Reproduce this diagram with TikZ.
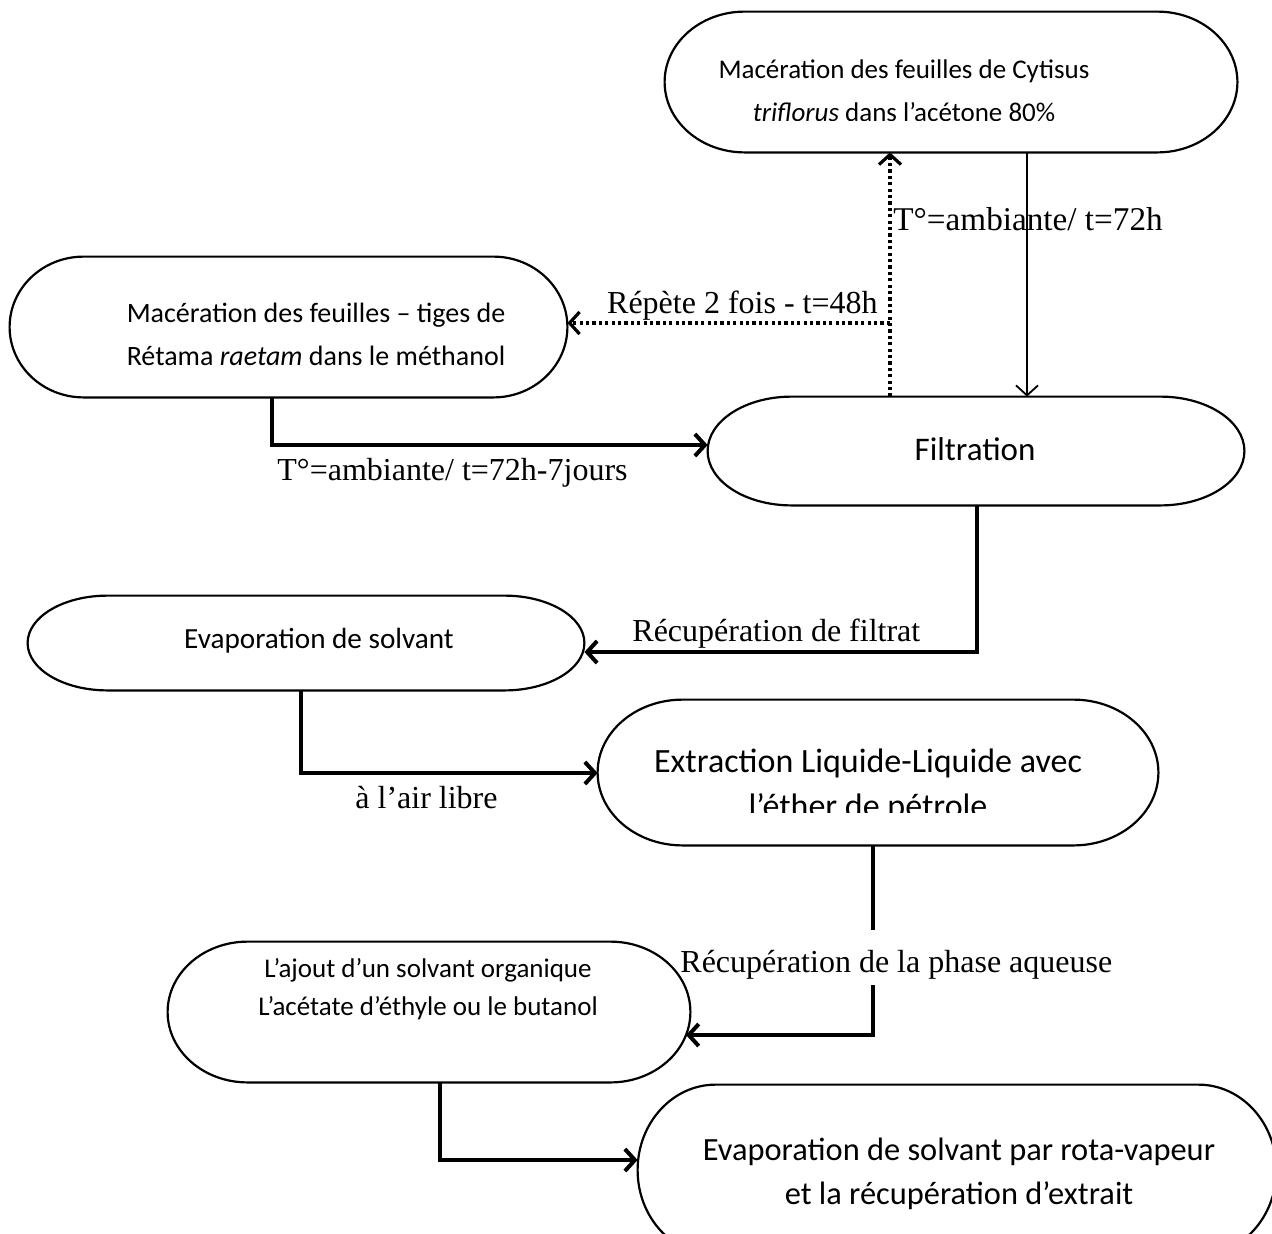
\documentclass[tikz,border=0pt]{standalone}
\usepackage{fontspec}
\setmainfont{Liberation Serif}
\newfontfamily\calfont{Carlito}
\usetikzlibrary{arrows.meta,calc}
\tikzset{
  stad/.style={draw=none, shape=rectangle, inner sep=0pt},
  boxline/.style={draw=black, line width=1.1pt},
  btxt/.style={font=\calfont\fontsize{13.5}{21.5}\selectfont, align=center, inner sep=0pt},
  ltxt/.style={font=\fontsize{16}{19}\selectfont, inner sep=0pt},
  tipthick/.style={-{Straight Barb[length=5pt,width=11pt,line width=2pt]}},
  tipthin/.style={-{Straight Barb[length=5pt,width=11pt,line width=0.9pt]}},
  thickconn/.style={line width=2.1pt, tipthick},
  thickline/.style={line width=2.1pt},
  thinconn/.style={line width=0.8pt, tipthin},
  dotline/.style={line width=1.6pt, dash pattern=on 1.6pt off 1.6pt},
  dotconn/.style={dotline, -{Straight Barb[length=5pt,width=11pt,line width=1.6pt]}},
}
\newcommand\mystad[2]{%
  \draw[boxline] let \p1=(#1.north west), \p2=(#1.south east), \n1={(\y1-\y2)/2} in
    (\x1+#2,\y1) -- (\x2-#2,\y1)
    arc[start angle=90,end angle=-90,x radius=#2,y radius=\n1]
    -- (\x1+#2,\y2)
    arc[start angle=270,end angle=90,x radius=#2,y radius=\n1] -- cycle;}
\begin{document}
\begin{tikzpicture}[x=0.5pt,y=-0.5pt]
\useasboundingbox (0,0) rectangle (1272,1233);
\clip (0,0) rectangle (1272,1233);
% columns and rows
\coordinate (c1) at (1027,0);
\coordinate (c2) at (890,0);
\coordinate (c3) at (272,0);
\coordinate (c4) at (977,0);
\coordinate (c5) at (301,0);
\coordinate (c6) at (873,0);
\coordinate (c7) at (440,0);
\coordinate (r1) at (0,323);
\coordinate (r2) at (0,445);
\coordinate (r3) at (0,652);
\coordinate (r4) at (0,773);
\coordinate (r5) at (0,1035);
\coordinate (r6) at (0,1160);
\coordinate (g1) at (0,930);
\coordinate (g2) at (0,985);
% box frames
\node[stad, minimum width=286pt, minimum height=70pt] (b1) at (951,82) {};
\node[stad, minimum width=278.5pt, minimum height=70pt] (b2) at (288.5,327) {};
\node[stad, minimum width=268pt, minimum height=54pt] (b3) at (976,451) {};
\node[stad, minimum width=278pt, minimum height=47pt] (b4) at (306,643) {};
\node[stad, minimum width=280pt, minimum height=72.5pt] (b5) at (878,772.5) {};
\node[stad, minimum width=261pt, minimum height=70pt] (b6) at (429,1012) {};
\node[stad, minimum width=319pt, minimum height=85pt] (b7) at (957,1170) {};
\coordinate (e6) at ([xshift=-2.2pt]b6.east);
% connectors
\draw[thinconn] (b1.south -| c1) -- (b3.north -| c1);
\draw[dotconn] (b3.north -| c2) -- (b1.south -| c2);
\draw[dotconn] (c2 |- r1) -- (b2.east |- r1);
\draw[thickconn] (b2.south -| c3) |- (b3.west |- r2);
\draw[thickconn] (b3.south -| c4) |- (b4.east |- r3);
\draw[thickconn] (b4.south -| c5) |- (b5.west |- r4);
\draw[thickline] (b5.south -| c6) -- (c6 |- g1);
\draw[thickconn] (c6 |- g2) |- (e6 |- r5);
\draw[thickconn] (b6.south -| c7) |- (b7.west |- r6);
% outlines
\mystad{b1}{40pt}
\mystad{b2}{37pt}
\mystad{b3}{42pt}
\mystad{b4}{40pt}
\mystad{b5}{42.5pt}
\mystad{b6}{40pt}
\mystad{b7}{39pt}
% box texts
\begin{scope}
\clip (665,12) rectangle (1240,120);
\node[btxt] (t1) at (904,92) {Macération des feuilles de Cytisus\\\textit{triflorus} dans l’acétone 80\%};
\end{scope}
\node[btxt, font=\calfont\fontsize{14}{21.5}\selectfont] (t2) at (316,334) {Macération des feuilles – tiges de\\Rétama \textit{raetam} dans le méthanol};
\node[btxt, font=\calfont\fontsize{16.5}{22}\selectfont] (t3) at (975,449) {Filtration};
\node[btxt, font=\calfont\fontsize{14.6}{21.5}\selectfont] (t4) at (319,641) {Evaporation de solvant};
\begin{scope}
\clip (598,700) rectangle (1158,812);
\node[btxt, font=\calfont\fontsize{17}{22.5}\selectfont] (t5) at (868,786) {Extraction Liquide-Liquide avec\\l’éther de pétrole};
\end{scope}
\node[btxt, font=\calfont\fontsize{13.5}{19}\selectfont] (t6) at (428,989) {L’ajout d’un solvant organique\\L’acétate d’éthyle ou le butanol};
\node[btxt, font=\calfont\fontsize{16.2}{22}\selectfont] (t7) at (959,1174) {Evaporation de solvant par rota-vapeur\\et la récupération d’extrait};
% connector labels
\node[ltxt, font=\fontsize{16.6}{19}\selectfont, anchor=base west] (l1) at (893,230) {T°=ambiante/ t=72h};
\node[ltxt, anchor=base east] (l2) at (878,313) {Répète 2 fois - t=48h};
\node[ltxt, anchor=base west] (l3) at (277,480) {T°=ambiante/ t=72h-7jours};
\node[ltxt, anchor=base west] (l4) at (632,641) {Récupération de filtrat};
\node[ltxt, anchor=base west] (l5) at (355,808) {à l’air libre};
\node[ltxt, anchor=base west] (l6) at (680,972) {Récupération de la phase aqueuse};
\end{tikzpicture}
\end{document}
